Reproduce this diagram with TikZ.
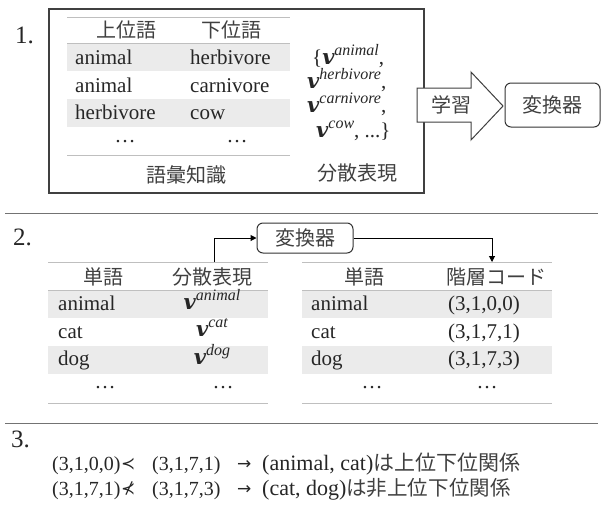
\documentclass[tikz,border=0pt]{standalone}
\usepackage{fontspec}
\setmainfont{Liberation Serif}
\newfontfamily\jp{Noto Sans CJK JP}
\newfontfamily\symf{DejaVu Sans}
\newfontfamily\vfont{DejaVu Serif}
\usetikzlibrary{arrows.meta}
\newcommand{\myvec}[1]{{\vfont\bfseries\itshape v}\raisebox{0.42em}{\fontsize{16}{16}\selectfont\itshape #1}}
\begin{document}
\begin{tikzpicture}[x=1pt,y=-1pt,
  tx/.style={font=\fontsize{21}{24}\selectfont, inner sep=0pt, text=black!85},
  jt/.style={font=\fontsize{20}{24}\selectfont\jp, inner sep=0pt, text=black!75},
  num/.style={font=\fontsize{25}{28}\selectfont, inner sep=0pt, text=black!85},
  tup/.style={font=\fontsize{20}{24}\selectfont, inner sep=0pt, text=black!85},
  wrd/.style={font=\fontsize{22}{26}\selectfont, inner sep=0pt, text=black!85},
  sym/.style={font=\fontsize{17}{20}\selectfont\symf, inner sep=0pt, text=black!85},
  rulel/.style={draw=black!25, line width=1pt},
  shaderow/.style={fill=black!8, draw=none},
  sepline/.style={draw=black!55, line width=1pt},
  frame/.style={draw=black!75, line width=1.2pt},
  conv/.style={draw=black!80, rounded corners=6pt, line width=1pt, inner sep=0pt,
    font=\fontsize{20}{24}\selectfont\jp, text=black!75},
  conn/.style={draw=black, line width=1pt, -{Triangle[length=6pt,width=6pt]}}
]
\useasboundingbox (0,0) rectangle (604,517);

% ---------- section 1 ----------
\node[num, anchor=base west] (n1) at (15,43) {1.};
\node[frame, minimum width=375pt, minimum height=184pt, inner sep=0pt] (box1) at (236.5,101) {};
% table 1
\fill[shaderow] (67,43) rectangle (290,71);
\fill[shaderow] (67,99) rectangle (290,127);
\draw[rulel] (67,17) -- (290,17);
\draw[rulel] (67,43) -- (290,43);
\draw[rulel] (67,155) -- (290,155);
\node[jt] (h1) at (126,30) {上位語};
\node[jt] (h2) at (231,30) {下位語};
\node[tx, anchor=base west] (r1a) at (75,64.5) {animal};
\node[tx, anchor=base west] (r1b) at (190,64.5) {herbivore};
\node[tx, anchor=base west] (r2a) at (75,92) {animal};
\node[tx, anchor=base west] (r2b) at (190,92) {carnivore};
\node[tx, anchor=base west] (r3a) at (75,119.5) {herbivore};
\node[tx, anchor=base west] (r3b) at (190,119.5) {cow};
\node[tx, anchor=base] (d1a) at (125,142) {\dots};
\node[tx, anchor=base] (d1b) at (237,142) {\dots};
\node[jt] (lex) at (186,175) {語彙知識};
% vectors
\node[tx, anchor=base west] (v1) at (312,64) {\{\myvec{animal},};
\node[tx, anchor=base west] (v2) at (307,88) {\myvec{herbivore},};
\node[tx, anchor=base west] (v3) at (307,112) {\myvec{carnivore},};
\node[tx, anchor=base west] (v4) at (316,137) {\myvec{cow}, ...\}};
\node[jt] (dist1) at (357,173) {分散表現};
% big arrow
\draw[draw=black!75, fill=white, line width=1pt]
  (417,88) -- (471,88) -- (471,72) -- (503,106) -- (471,140) -- (471,122) -- (417,122) -- cycle;
\node[jt] (learn) at (451,105) {学習};
\node[conv, minimum width=95pt, minimum height=44pt] (conv1) at (552.5,105) {変換器};

\draw[sepline] (5,213) -- (598,213);

% ---------- section 2 ----------
\node[num, anchor=base west] (n2) at (13,245) {2.};
\node[conv, minimum width=96pt, minimum height=30pt] (conv2) at (305,238) {変換器};
% left table
\fill[shaderow] (48,290) rectangle (268,318);
\fill[shaderow] (48,346) rectangle (268,374);
\draw[rulel] (48,262) -- (268,262);
\draw[rulel] (48,290) -- (268,290);
\draw[rulel] (48,403) -- (268,403);
\node[jt] (lh1) at (103,277) {単語};
\node[jt] (lh2) at (212,277) {分散表現};
\node[tx, anchor=base west] (la1) at (58,310.5) {animal};
\node[tx, anchor=base] (lb1) at (212,309) {\myvec{animal}};
\node[tx, anchor=base west] (la2) at (58,338) {cat};
\node[tx, anchor=base] (lb2) at (212,336.5) {\myvec{cat}};
\node[tx, anchor=base west] (la3) at (58,365.5) {dog};
\node[tx, anchor=base] (lb3) at (212,364) {\myvec{dog}};
\node[tx, anchor=base] (ld1) at (105,388) {\dots};
\node[tx, anchor=base] (ld2) at (223,388) {\dots};
% right table
\fill[shaderow] (302,290) rectangle (552,318);
\fill[shaderow] (302,346) rectangle (552,374);
\draw[rulel] (302,262) -- (552,262);
\draw[rulel] (302,290) -- (552,290);
\draw[rulel] (302,403) -- (552,403);
\node[jt] (rh1) at (364,277) {単語};
\node[jt] (rh2) at (496,277) {階層コード};
\node[tx, anchor=base west] (ra1) at (311,310.5) {animal};
\node[tx, anchor=base] (rb1) at (484,310.5) {(3,1,0,0)};
\node[tx, anchor=base west] (ra2) at (311,338) {cat};
\node[tx, anchor=base] (rb2) at (484,338) {(3,1,7,1)};
\node[tx, anchor=base west] (ra3) at (311,365.5) {dog};
\node[tx, anchor=base] (rb3) at (484,365.5) {(3,1,7,3)};
\node[tx, anchor=base] (rd1) at (372,388) {\dots};
\node[tx, anchor=base] (rd2) at (487,388) {\dots};
% connectors
\coordinate (t2top) at (214,262);
\coordinate (t3top) at (492,262);
\draw[conn] (t2top) |- (conv2.west);
\draw[conn] (conv2.east) -| (t3top);

\draw[sepline] (5,423) -- (598,423);

% ---------- section 3 ----------
\node[num, anchor=base west] (n3) at (11,447) {3.};
\node[tup, anchor=base west] (a1) at (52,470) {(3,1,0,0)};
\node[sym, anchor=base west] (p1) at (121,469) {≺};
\node[tup, anchor=base west] (b1) at (152,470) {(3,1,7,1)};
\node[sym, anchor=base west] (q1) at (237,469) {→};
\node[wrd, anchor=base west] (c1) at (262,470) {(animal, cat){\fontsize{21}{24}\selectfont\jp\color{black!75}は上位下位関係}};
\node[tup, anchor=base west] (a2) at (52,495) {(3,1,7,1)};
\node[sym, anchor=base west] (p2) at (121,494) {⊀};
\node[tup, anchor=base west] (b2) at (152,495) {(3,1,7,3)};
\node[sym, anchor=base west] (q2) at (237,494) {→};
\node[wrd, anchor=base west] (c2) at (262,495) {(cat, dog){\fontsize{20.5}{24}\selectfont\jp\color{black!75}は非上位下位関係}};
\end{tikzpicture}
\end{document}
